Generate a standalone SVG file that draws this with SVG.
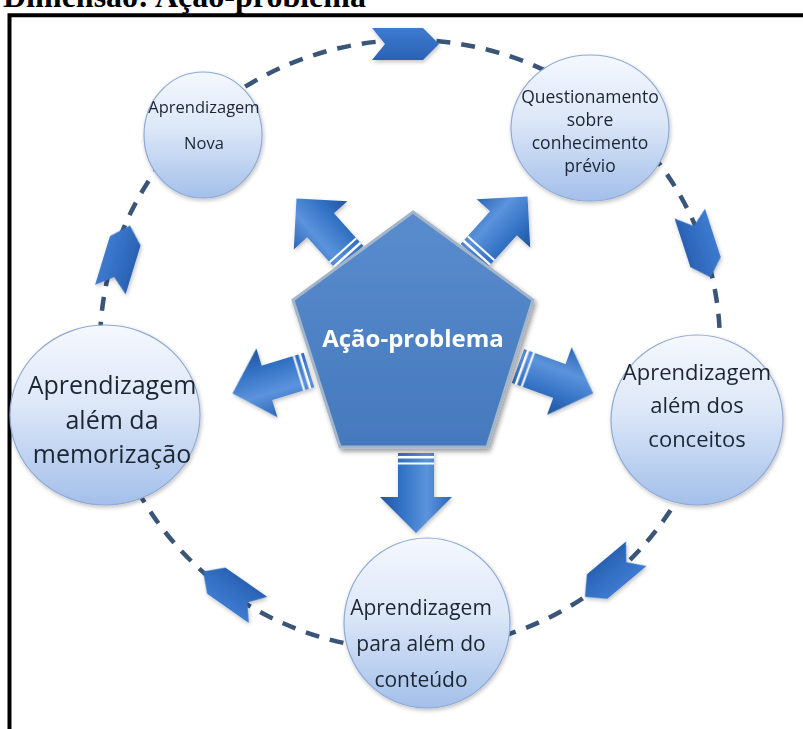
<svg xmlns="http://www.w3.org/2000/svg" width="803" height="729" viewBox="0 0 803 729">
  <style>
    .title{font-family:"Liberation Serif","Times New Roman",serif;font-weight:bold;font-size:32px;fill:#000}
    .frame{fill:none;stroke:#000;stroke-width:4}
    .bubble{fill:url(#bubbleFill);stroke:#8eaad6;stroke-width:1.2}
    .lbl{font-family:"Open Sans","Noto Sans",sans-serif;fill:#1c2632;text-anchor:middle}
    .ring{fill:none;stroke:#3a5578;stroke-width:4.5;stroke-dasharray:14 11}
    .chev{fill:url(#chevFill)}
    .core{fill:url(#coreFill);stroke:#a3b5c9;stroke-width:3;stroke-linejoin:miter}
    .coreText{font-family:"Open Sans","Noto Sans",sans-serif;font-weight:bold;font-size:24px;fill:#fff;text-anchor:middle}
  </style>
  <defs>
    <linearGradient id="bubbleFill" x1="0" y1="0" x2="0" y2="1">
      <stop offset="0" stop-color="#f5f8fe"/>
      <stop offset="0.45" stop-color="#dce7f8"/>
      <stop offset="1" stop-color="#a3bfea"/>
    </linearGradient>
    <linearGradient id="coreFill" x1="0" y1="0" x2="0" y2="1">
      <stop offset="0" stop-color="#5a8cce"/>
      <stop offset="1" stop-color="#4479bd"/>
    </linearGradient>
    <linearGradient id="arrowFill" x1="0" y1="0" x2="0" y2="1">
      <stop offset="0" stop-color="#2c66b5"/>
      <stop offset="0.35" stop-color="#5b93dc"/>
      <stop offset="0.7" stop-color="#3372c4"/>
      <stop offset="1" stop-color="#21549c"/>
    </linearGradient>
    <linearGradient id="chevFill" x1="0" y1="0" x2="0" y2="1">
      <stop offset="0" stop-color="#3d7bd0"/>
      <stop offset="1" stop-color="#2a62b4"/>
    </linearGradient>
    <filter id="drop" x="-20%" y="-20%" width="140%" height="140%">
      <feGaussianBlur in="SourceAlpha" stdDeviation="2.5"/>
      <feOffset dx="2" dy="3" result="b"/>
      <feComponentTransfer><feFuncA type="linear" slope="0.4"/></feComponentTransfer>
      <feMerge><feMergeNode/><feMergeNode in="SourceGraphic"/></feMerge>
    </filter>
    <filter id="soft" x="-30%" y="-30%" width="160%" height="160%">
      <feGaussianBlur in="SourceAlpha" stdDeviation="2"/>
      <feOffset dx="1" dy="2"/>
      <feComponentTransfer><feFuncA type="linear" slope="0.25"/></feComponentTransfer>
      <feMerge><feMergeNode/><feMergeNode in="SourceGraphic"/></feMerge>
    </filter>
    <!-- striped block arrow, tail at origin, pointing along +x -->
    <g id="blockArrow">
      <path d="M0,-18 L44,-18 L44,-36 L80,0 L44,36 L44,18 L0,18 Z" fill="url(#arrowFill)"/>
      <rect x="3" y="-18" width="2.5" height="36" fill="#ffffff"/>
      <rect x="9.5" y="-18" width="2" height="36" fill="#ffffff"/>
    </g>
    <!-- notched chevron, centred on origin, pointing along +x -->
    <polygon id="chevron" points="-33,-16 18,-16 34,0 18,16 -33,16 -20,0"/>
  </defs>

  <text class="title" x="3" y="7">Dimensão: Ação-problema</text>
  <path class="frame" d="M9.5,729 V15.3 H803"/>

  <g id="connectors">
    <ellipse class="ring" cx="410" cy="345" rx="310" ry="305"/>
    <g filter="url(#soft)">
      <use href="#chevron" class="chev" transform="translate(405,44)"/>
      <use href="#chevron" class="chev" transform="translate(700,245) rotate(72)"/>
      <use href="#chevron" class="chev" transform="translate(611,575) rotate(140)"/>
      <use href="#chevron" class="chev" transform="translate(231,591) rotate(-145)"/>
      <use href="#chevron" class="chev" transform="translate(120,258) rotate(-73)"/>
    </g>
    <g filter="url(#soft)">
      <use href="#blockArrow" transform="translate(416,453) rotate(90)"/>
      <use href="#blockArrow" transform="translate(350,258) rotate(-132)"/>
      <use href="#blockArrow" transform="translate(474,256) rotate(-48)"/>
      <use href="#blockArrow" transform="translate(309,370) rotate(163)"/>
      <use href="#blockArrow" transform="translate(518,366) rotate(20)"/>
    </g>
  </g>

  <g id="acao-problema" filter="url(#drop)">
    <polygon class="core" points="413,212 533,300 487,447 340,447 293,300"/>
    <text class="coreText" x="413" y="347">Ação-problema</text>
  </g>

  <g id="aprendizagem-nova" filter="url(#soft)">
    <ellipse class="bubble" cx="203" cy="135" rx="59" ry="63"/>
    <text class="lbl" font-size="16.5" x="204" y="113">Aprendizagem</text>
    <text class="lbl" font-size="16.5" x="204" y="149">Nova</text>
  </g>

  <g id="questionamento" filter="url(#soft)">
    <ellipse class="bubble" cx="590" cy="128" rx="79" ry="73"/>
    <text class="lbl" font-size="17.5" x="590" y="103">Questionamento</text>
    <text class="lbl" font-size="17.5" x="590" y="126">sobre</text>
    <text class="lbl" font-size="17.5" x="590" y="149">conhecimento</text>
    <text class="lbl" font-size="17.5" x="590" y="172">prévio</text>
  </g>

  <g id="alem-dos-conceitos" filter="url(#soft)">
    <ellipse class="bubble" cx="697" cy="420" rx="86" ry="85"/>
    <text class="lbl" font-size="22" x="697" y="380">Aprendizagem</text>
    <text class="lbl" font-size="22" x="697" y="413">além dos</text>
    <text class="lbl" font-size="22" x="697" y="447">conceitos</text>
  </g>

  <g id="alem-do-conteudo" filter="url(#soft)">
    <ellipse class="bubble" cx="427" cy="623" rx="83" ry="85"/>
    <text class="lbl" font-size="21" x="421" y="615">Aprendizagem</text>
    <text class="lbl" font-size="21" x="421" y="651">para além do</text>
    <text class="lbl" font-size="21" x="421" y="687">conteúdo</text>
  </g>

  <g id="alem-da-memorizacao" filter="url(#soft)">
    <ellipse class="bubble" cx="105" cy="415" rx="95" ry="90"/>
    <text class="lbl" font-size="25" x="112" y="394">Aprendizagem</text>
    <text class="lbl" font-size="25" x="112" y="429">além da</text>
    <text class="lbl" font-size="25" x="112" y="463">memorização</text>
  </g>
</svg>
